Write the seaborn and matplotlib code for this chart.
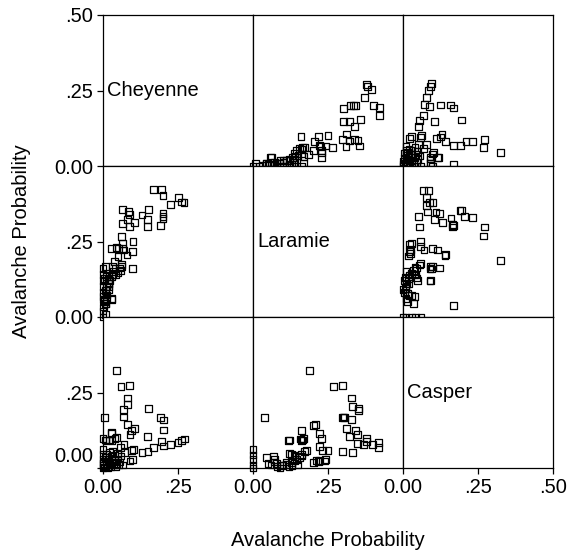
import matplotlib
matplotlib.use("Agg")
import matplotlib.pyplot as plt
import matplotlib.transforms as mtransforms
import seaborn as sns
import pandas as pd

# ---------------- data ----------------
stations = ["Cheyenne", "Laramie", "Casper"]
axis_title = "Avalanche Probability"
tick_values = [0.0, 0.25, 0.5]
tick_labels = ["0.00", ".25", ".50"]

# Cheyenne vs Laramie pairs
cl_cheyenne = [0.270, 0.263, 0.252, 0.226, 0.191, 0.200, 0.200, 0.200, 0.200, 0.195,
               0.167, 0.147, 0.147, 0.153, 0.130, 0.106, 0.066, 0.084, 0.088, 0.083,
               0.064, 0.087, 0.097, 0.097, 0.100, 0.080, 0.064, 0.066, 0.062, 0.062,
               0.056, 0.050, 0.044, 0.050, 0.039, 0.031, 0.033, 0.028, 0.068, 0.051,
               0.028, 0.020, 0.017, 0.017, 0.019, 0.010, 0.012, 0.012, 0.007, 0.007,
               0.061, 0.058, 0.040, 0.034, 0.029, 0.043, 0.023, 0.018, 0.012, 0.007,
               0.010, 0.003, 0.001, 0.012, 0.029, 0.007, 0.001, 0.000, 0.000, 0.002,
               0.005, 0.020, 0.000, 0.005, 0.000, 0.000, 0.000]
cl_laramie = [0.379, 0.381, 0.396, 0.373, 0.303, 0.325, 0.334, 0.343, 0.403, 0.423,
              0.423, 0.301, 0.323, 0.357, 0.338, 0.312, 0.355, 0.350, 0.339, 0.323,
              0.310, 0.299, 0.160, 0.218, 0.250, 0.205, 0.226, 0.243, 0.266, 0.173,
              0.162, 0.146, 0.229, 0.201, 0.184, 0.168, 0.140, 0.227, 0.222, 0.227,
              0.062, 0.101, 0.090, 0.112, 0.123, 0.046, 0.073, 0.134, 0.168, 0.007,
              0.166, 0.155, 0.161, 0.150, 0.133, 0.139, 0.122, 0.111, 0.100, 0.089,
              0.078, 0.067, 0.056, 0.061, 0.058, 0.044, 0.033, 0.000, 0.161, 0.122,
              0.128, 0.139, 0.100, 0.050, 0.020, 0.080, 0.140]

# Cheyenne vs Casper pairs
cc_cheyenne = [0.272, 0.263, 0.250, 0.226, 0.203, 0.196, 0.202, 0.202, 0.192, 0.152,
               0.167, 0.150, 0.130, 0.148, 0.090, 0.095, 0.105, 0.096, 0.090, 0.081,
               0.070, 0.057, 0.071, 0.068, 0.068, 0.081, 0.081, 0.087, 0.060, 0.046,
               0.046, 0.030, 0.028, 0.010, 0.005, 0.040, 0.023, 0.007, 0.027, 0.000,
               0.101, 0.098,
               0.000, 0.005, 0.010, 0.015, 0.020, 0.025, 0.030, 0.035, 0.040, 0.045,
               0.050, 0.055, 0.060, 0.065, 0.003, 0.008, 0.012, 0.018, 0.022, 0.028,
               0.033, 0.038, 0.043, 0.048, 0.052, 0.000, 0.000, 0.000, 0.000, 0.002]
cc_casper = [0.096, 0.092, 0.084, 0.079, 0.073, 0.088, 0.126, 0.159, 0.168, 0.196,
             0.068, 0.054, 0.051, 0.104, 0.023, 0.059, 0.130, 0.124, 0.112, 0.143,
             0.079, 0.068, 0.051, 0.169, 0.193, 0.210, 0.232, 0.273, 0.269, 0.324,
             0.102, 0.090, 0.114, 0.092, 0.168, 0.099, 0.093, 0.093, 0.118, 0.099,
             0.062, 0.027,
             0.000, 0.003, 0.008, 0.002, 0.012, 0.005, 0.018, 0.010, 0.025, 0.015,
             0.030, 0.020, 0.040, 0.010, 0.020, 0.035, 0.045, 0.028, 0.050, 0.038,
             0.055, 0.042, 0.006, 0.048, 0.012, 0.015, 0.030, 0.045, 0.060, 0.008]

# Laramie vs Casper pairs
lc_laramie = [0.187, 0.268, 0.298, 0.329, 0.333, 0.352, 0.353, 0.037, 0.303, 0.306,
              0.298, 0.328, 0.312, 0.343, 0.322, 0.348, 0.348, 0.369, 0.378, 0.378,
              0.397, 0.419, 0.419, 0.333, 0.298, 0.207, 0.162, 0.168, 0.166, 0.228,
              0.222, 0.203, 0.239, 0.250, 0.233, 0.222, 0.217, 0.202, 0.161, 0.159,
              0.172, 0.163, 0.155, 0.144, 0.139, 0.122, 0.139, 0.128, 0.111, 0.094,
              0.078, 0.072, 0.067, 0.044, 0.119, 0.210, 0.223, 0.243, 0.177, 0.162,
              0.140, 0.129, 0.121, 0.000, 0.000, 0.000, 0.000, 0.000, 0.060, 0.050,
              0.070, 0.080, 0.100, 0.120, 0.130, 0.090, 0.110, 0.150]
lc_casper = [0.324, 0.269, 0.273, 0.232, 0.204, 0.196, 0.190, 0.168, 0.169, 0.166,
             0.166, 0.160, 0.132, 0.123, 0.104, 0.110, 0.081, 0.079, 0.088, 0.098,
             0.079, 0.084, 0.068, 0.051, 0.054, 0.143, 0.123, 0.099, 0.093, 0.098,
             0.115, 0.140, 0.023, 0.059, 0.057, 0.070, 0.021, 0.018, 0.090, 0.096,
             0.054, 0.040, 0.034, 0.029, 0.043, 0.048, 0.023, 0.018, 0.012, 0.007,
             0.014, 0.029, 0.040, 0.034, 0.090, 0.025, 0.025, 0.027, 0.057, 0.046,
             0.037, 0.045, 0.093, 0.010, 0.027, 0.043, 0.060, 0.000, 0.010, 0.015,
             0.020, 0.005, 0.010, 0.004, 0.008, 0.000, 0.020, 0.010]

pair_frames = [
    pd.DataFrame({"Cheyenne": cl_cheyenne, "Laramie": cl_laramie}),
    pd.DataFrame({"Cheyenne": cc_cheyenne, "Casper": cc_casper}),
    pd.DataFrame({"Laramie": lc_laramie, "Casper": lc_casper}),
]

# ---------------- style ----------------
sns.set_style("white")
plt.rcParams["font.family"] = ["Liberation Sans", "DejaVu Sans"]
plt.rcParams["text.color"] = "black"
plt.rcParams["axes.labelcolor"] = "black"
plt.rcParams["xtick.color"] = "black"
plt.rcParams["ytick.color"] = "black"
FS = 14.5

fig, axes = plt.subplots(3, 3, figsize=(5.69, 5.54), dpi=100)
fig.subplots_adjust(left=103/569, right=553/569, top=1-15/554, bottom=1-468/554,
                    wspace=0, hspace=0)


def find_frame(a, b):
    for df in pair_frames:
        if a in df.columns and b in df.columns:
            return df
    return None


for i in range(3):
    for j in range(3):
        ax = axes[i][j]
        if i == j:
            ax.text(0.03, 0.5, stations[i], transform=ax.transAxes,
                    ha="left", va="center", fontsize=FS, color="black")
        else:
            df = find_frame(stations[i], stations[j])
            sns.scatterplot(data=df, x=stations[j], y=stations[i], ax=ax,
                            marker="s", s=24, facecolor="none",
                            edgecolor="black", linewidth=0.9,
                            clip_on=False, legend=False, zorder=3)
            for coll in ax.collections:
                coll.set_facecolor("none")
                coll.set_edgecolor("black")
        ax.set_xlim(0, 0.5)
        ax.set_ylim(0, 0.5)
        ax.set_xlabel("")
        ax.set_ylabel("")
        for sp in ax.spines.values():
            sp.set_color("black")
            sp.set_linewidth(0.9)
        # ticks
        if j == 0:
            yt = tick_values if i == 0 else tick_values[:2]
            ax.set_yticks(yt)
            ax.set_yticklabels(tick_labels[:len(yt)], fontsize=FS, color="black")
            ax.tick_params(axis="y", left=True, length=4, width=0.9,
                           direction="out", pad=3, colors="black")
        else:
            ax.set_yticks([])
        if i == 2:
            xt = tick_values if j == 2 else tick_values[:2]
            ax.set_xticks(xt)
            ax.set_xticklabels(tick_labels[:len(xt)], fontsize=FS, color="black")
            ax.tick_params(axis="x", bottom=True, length=4, width=0.9,
                           direction="out", pad=3, colors="black")
        else:
            ax.set_xticks([])

# bottom row "0.00" label sits a little above its tick
lab = axes[2][0].get_yticklabels()[0]
lab.set_transform(lab.get_transform() +
                  mtransforms.ScaledTranslation(0, 13/100, fig.dpi_scale_trans))

fig.text(22/569, 1-241/554, axis_title, rotation=90, ha="center", va="center",
         fontsize=FS, color="black")
fig.text(328/569, 1-540/554, axis_title, ha="center", va="center", fontsize=FS,
         color="black")

fig.savefig("out.png", dpi=100)
